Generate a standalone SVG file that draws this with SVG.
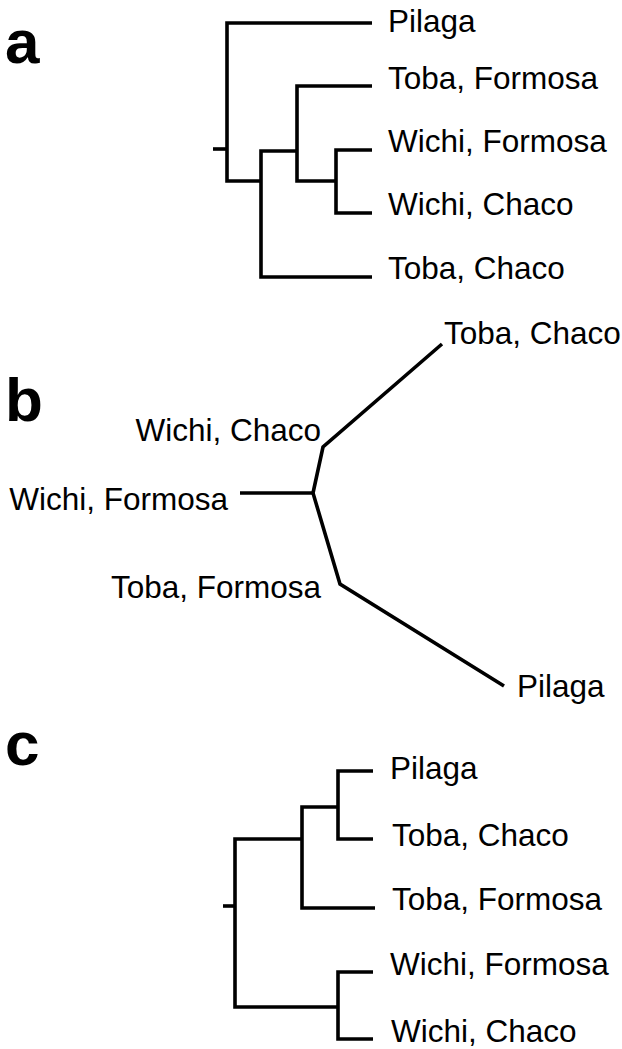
<svg xmlns="http://www.w3.org/2000/svg" width="622" height="1049" viewBox="0 0 622 1049">
<style>
.br{fill:none;stroke:#000;stroke-width:3.6;stroke-linecap:butt;stroke-linejoin:miter}
.lb{font-family:"Liberation Sans",Arial,Helvetica,sans-serif;font-size:31.5px;fill:#000}
.pl{font-family:"Liberation Sans",Arial,Helvetica,sans-serif;font-size:62px;font-weight:bold;fill:#000}
</style>
<rect width="622" height="1049" fill="#fff"/>
<g id="panel-labels">
<text class="pl" x="5" y="63">a</text>
<text class="pl" x="5" y="421">b</text>
<text class="pl" x="5" y="765">c</text>
</g>
<g id="connectors">
<!-- panel a -->
<path class="br" d="M213,149H227"/>
<path class="br" d="M372,23H227V181H261"/>
<path class="br" d="M297,151H261V277H372"/>
<path class="br" d="M372,86H297V181H336"/>
<path class="br" d="M372,150H336V213H372"/>
<!-- panel b -->
<path class="br" d="M240,493H313"/>
<path class="br" d="M442,344L323,447L313,493L340,584L504,686"/>
<!-- panel c -->
<path class="br" d="M223,906H235"/>
<path class="br" d="M302,839H235V1007H338"/>
<path class="br" d="M338,807H302V908H375"/>
<path class="br" d="M373,771H338V839H373"/>
<path class="br" d="M373,972H338V1039H373"/>
</g>
<g id="a-pilaga"><text class="lb" x="388" y="31.5">Pilaga</text></g>
<g id="a-toba-formosa"><text class="lb" x="388" y="89">Toba, Formosa</text></g>
<g id="a-wichi-formosa"><text class="lb" x="388" y="152">Wichi, Formosa</text></g>
<g id="a-wichi-chaco"><text class="lb" x="388" y="215">Wichi, Chaco</text></g>
<g id="a-toba-chaco"><text class="lb" x="388" y="279">Toba, Chaco</text></g>
<g id="b-toba-chaco"><text class="lb" x="444" y="344">Toba, Chaco</text></g>
<g id="b-wichi-chaco"><text class="lb" x="321" y="441" text-anchor="end">Wichi, Chaco</text></g>
<g id="b-wichi-formosa"><text class="lb" x="228" y="510" text-anchor="end">Wichi, Formosa</text></g>
<g id="b-toba-formosa"><text class="lb" x="321" y="598" text-anchor="end">Toba, Formosa</text></g>
<g id="b-pilaga"><text class="lb" x="517" y="697">Pilaga</text></g>
<g id="c-pilaga"><text class="lb" x="390" y="779">Pilaga</text></g>
<g id="c-toba-chaco"><text class="lb" x="392" y="846">Toba, Chaco</text></g>
<g id="c-toba-formosa"><text class="lb" x="392" y="910">Toba, Formosa</text></g>
<g id="c-wichi-formosa"><text class="lb" x="390" y="975">Wichi, Formosa</text></g>
<g id="c-wichi-chaco"><text class="lb" x="391" y="1042">Wichi, Chaco</text></g>
</svg>
